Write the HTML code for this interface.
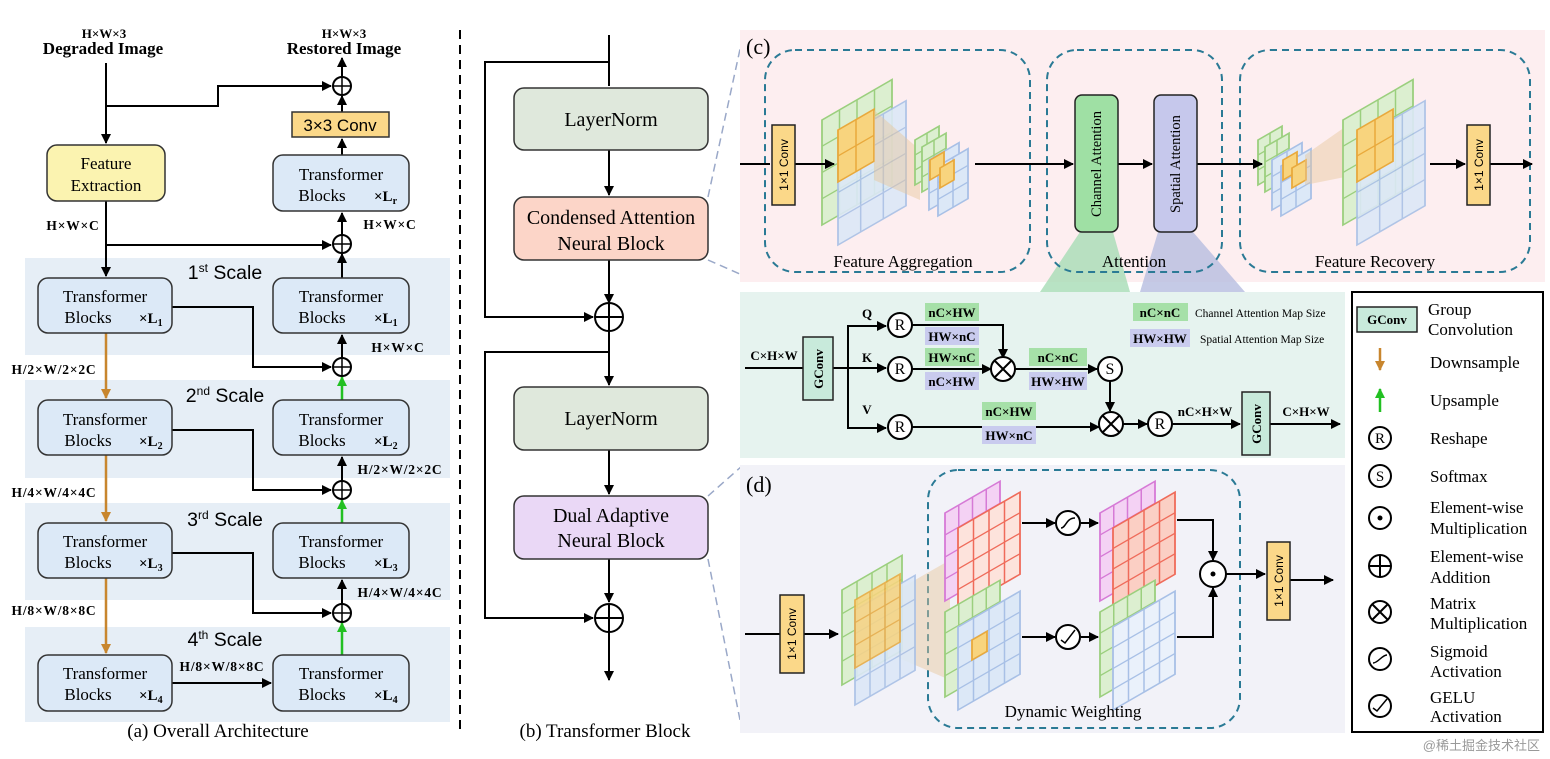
<!DOCTYPE html>
<html><head><meta charset="utf-8"><style>
html,body{margin:0;padding:0;background:#fff}
svg{display:block}
.s{font-family:"Liberation Serif",serif}
.b{font-family:"Liberation Serif",serif;font-weight:bold}
.ss{font-family:"Liberation Sans",sans-serif}
</style></head><body>
<svg id="sv" width="1550" height="759" viewBox="0 0 1550 759" xmlns="http://www.w3.org/2000/svg">
<defs>
<marker id="a" markerWidth="10" markerHeight="10" refX="9" refY="5" orient="auto" markerUnits="userSpaceOnUse"><path d="M0,0 L10,5 L0,10 z" fill="#000"/></marker>
<marker id="ao" markerWidth="10" markerHeight="10" refX="9" refY="5" orient="auto" markerUnits="userSpaceOnUse"><path d="M0,0 L10,5 L0,10 z" fill="#c8862e"/></marker>
<marker id="ag" markerWidth="10" markerHeight="10" refX="9" refY="5" orient="auto" markerUnits="userSpaceOnUse"><path d="M0,0 L10,5 L0,10 z" fill="#22c022"/></marker>
</defs>
<rect width="1550" height="759" fill="#fff"/>
<g fill="#e6eef6">
<rect x="25" y="258" width="425" height="97"/><rect x="25" y="380" width="425" height="98"/>
<rect x="25" y="503" width="425" height="97"/><rect x="25" y="627" width="425" height="95"/>
</g>
<g class="b" font-size="13" text-anchor="middle">
<text x="104" y="38">H×W×3</text><text x="344" y="38">H×W×3</text>
</g>
<g class="b" font-size="17" text-anchor="middle">
<text x="103" y="54">Degraded Image</text><text x="344" y="54">Restored Image</text>
</g>
<g stroke="#000" stroke-width="2" fill="none">
<path d="M106,63 V143" marker-end="url(#a)"/>
<path d="M106,106 H218 V86 H331" marker-end="url(#a)"/>
<path d="M342,77 V58" marker-end="url(#a)"/>
<path d="M342,112 V96" marker-end="url(#a)"/>
<path d="M342,155 V139" marker-end="url(#a)"/>
<path d="M342,235 V213" marker-end="url(#a)"/>
<path d="M106,201 V276" marker-end="url(#a)"/>
<path d="M106,245 H331" marker-end="url(#a)"/>
<path d="M342,278 V254" marker-end="url(#a)"/>
<path d="M342,358 V335" marker-end="url(#a)"/>
<path d="M342,481 V457" marker-end="url(#a)"/>
<path d="M342,604 V580" marker-end="url(#a)"/>
<path d="M172,307 H253 V367 H331" marker-end="url(#a)"/>
<path d="M172,430 H253 V490 H331" marker-end="url(#a)"/>
<path d="M172,553 H253 V613 H331" marker-end="url(#a)"/>
<path d="M172,683 H271" marker-end="url(#a)"/>
</g>
<g stroke="#c8862e" stroke-width="2.5" fill="none">
<path d="M106,333 V398" marker-end="url(#ao)"/><path d="M106,455 V521" marker-end="url(#ao)"/><path d="M106,578 V653" marker-end="url(#ao)"/>
</g>
<g stroke="#22c022" stroke-width="2.5" fill="none">
<path d="M342,400 V377" marker-end="url(#ag)"/><path d="M342,523 V500" marker-end="url(#ag)"/><path d="M342,655 V623" marker-end="url(#ag)"/>
</g>
<g stroke="#000" stroke-width="2" fill="#fff">
<circle cx="342" cy="86" r="9"/><circle cx="342" cy="244" r="9"/><circle cx="342" cy="367" r="9"/><circle cx="342" cy="490" r="9"/><circle cx="342" cy="613" r="9"/>
</g>
<g stroke="#000" stroke-width="1.5">
<path d="M333,86H351M342,77V95M333,244H351M342,235V253M333,367H351M342,358V376M333,490H351M342,481V499M333,613H351M342,604V622"/>
</g>
<g stroke="#333" stroke-width="1.5">
<rect x="47" y="145" width="118" height="56" rx="10" fill="#fbf3b0"/>
<rect x="292" y="112" width="97" height="25" fill="#fbd889"/>
<rect x="273" y="155" width="136" height="56" rx="10" fill="#dce9f7"/>
<rect x="38" y="278" width="134" height="55" rx="10" fill="#dce9f7"/><rect x="273" y="278" width="136" height="55" rx="10" fill="#dce9f7"/>
<rect x="38" y="400" width="134" height="55" rx="10" fill="#dce9f7"/><rect x="273" y="400" width="136" height="55" rx="10" fill="#dce9f7"/>
<rect x="38" y="523" width="134" height="55" rx="10" fill="#dce9f7"/><rect x="273" y="523" width="136" height="55" rx="10" fill="#dce9f7"/>
<rect x="38" y="655" width="134" height="56" rx="10" fill="#dce9f7"/><rect x="273" y="655" width="136" height="56" rx="10" fill="#dce9f7"/>
</g>
<g class="s" font-size="17" text-anchor="middle">
<text x="106" y="169">Feature</text><text x="106" y="191">Extraction</text>
<text x="341" y="180">Transformer</text><text x="322" y="201">Blocks</text>
<text x="105" y="302">Transformer</text><text x="88" y="323">Blocks</text><text x="341" y="302">Transformer</text><text x="322" y="323">Blocks</text>
<text x="105" y="425">Transformer</text><text x="88" y="446">Blocks</text><text x="341" y="425">Transformer</text><text x="322" y="446">Blocks</text>
<text x="105" y="547">Transformer</text><text x="88" y="568">Blocks</text><text x="341" y="547">Transformer</text><text x="322" y="568">Blocks</text>
<text x="105" y="679">Transformer</text><text x="88" y="700">Blocks</text><text x="341" y="679">Transformer</text><text x="322" y="700">Blocks</text>
</g>
<g class="b" font-size="15">
<text x="374" y="201">×L<tspan font-size="10" dy="3">r</tspan></text>
<text x="139" y="323">×L<tspan font-size="10" dy="3">1</tspan></text><text x="374" y="323">×L<tspan font-size="10" dy="3">1</tspan></text>
<text x="139" y="446">×L<tspan font-size="10" dy="3">2</tspan></text><text x="374" y="446">×L<tspan font-size="10" dy="3">2</tspan></text>
<text x="139" y="568">×L<tspan font-size="10" dy="3">3</tspan></text><text x="374" y="568">×L<tspan font-size="10" dy="3">3</tspan></text>
<text x="139" y="700">×L<tspan font-size="10" dy="3">4</tspan></text><text x="374" y="700">×L<tspan font-size="10" dy="3">4</tspan></text>
</g>
<text class="ss" x="340" y="131" font-size="17" text-anchor="middle">3×3 Conv</text>
<g class="ss" font-size="19.5" text-anchor="middle">
<text x="225" y="279">1<tspan font-size="12" dy="-7">st</tspan><tspan dy="7"> Scale</tspan></text>
<text x="225" y="402">2<tspan font-size="12" dy="-7">nd</tspan><tspan dy="7"> Scale</tspan></text>
<text x="225" y="526">3<tspan font-size="12" dy="-7">rd</tspan><tspan dy="7"> Scale</tspan></text>
<text x="225" y="646">4<tspan font-size="12" dy="-7">th</tspan><tspan dy="7"> Scale</tspan></text>
</g>
<g class="b" font-size="13.5" text-anchor="middle" letter-spacing="0.8">
<text x="73" y="230">H×W×C</text><text x="390" y="229">H×W×C</text>
<text x="54" y="374">H/2×W/2×2C</text><text x="398" y="352">H×W×C</text>
<text x="54" y="497">H/4×W/4×4C</text><text x="400" y="474">H/2×W/2×2C</text>
<text x="54" y="615">H/8×W/8×8C</text><text x="400" y="597">H/4×W/4×4C</text>
<text x="222" y="671">H/8×W/8×8C</text>
</g>
<text class="s" x="218" y="737" font-size="19" text-anchor="middle">(a) Overall Architecture</text>
<line x1="460" y1="30" x2="460" y2="730" stroke="#000" stroke-width="2" stroke-dasharray="9,6"/>
<g stroke="#000" stroke-width="2" fill="none">
<path d="M609,35 V86"/><path d="M609,62 H485 V317 H593" marker-end="url(#a)"/>
<path d="M609,150 V195" marker-end="url(#a)"/><path d="M609,260 V303" marker-end="url(#a)"/>
<path d="M609,331 V385" marker-end="url(#a)"/><path d="M609,352 H485 V618 H593" marker-end="url(#a)"/>
<path d="M609,450 V494" marker-end="url(#a)"/><path d="M609,559 V602" marker-end="url(#a)"/>
<path d="M609,632 V680" marker-end="url(#a)"/>
<circle cx="609" cy="317" r="14" fill="#fff"/><circle cx="609" cy="618" r="14" fill="#fff"/>
<path d="M595,317H623M609,303V331M595,618H623M609,604V632"/>
</g>
<g stroke="#333" stroke-width="1.5">
<rect x="514" y="88" width="194" height="62" rx="10" fill="#dfe8dc"/>
<rect x="514" y="197" width="194" height="63" rx="10" fill="#fcd5c8"/>
<rect x="514" y="387" width="194" height="63" rx="10" fill="#dfe8dc"/>
<rect x="514" y="496" width="194" height="63" rx="10" fill="#ead8f6"/>
</g>
<g class="s" font-size="20" text-anchor="middle">
<text x="611" y="126">LayerNorm</text><text x="611" y="224">Condensed Attention</text><text x="611" y="250">Neural Block</text>
<text x="611" y="425">LayerNorm</text><text x="611" y="522">Dual Adaptive</text><text x="611" y="547">Neural Block</text>
</g>
<text class="s" x="605" y="737" font-size="19" text-anchor="middle">(b) Transformer Block</text>
<g stroke="#9aa8c8" stroke-width="1.5" stroke-dasharray="8,5" fill="none">
<path d="M708,197 L742,40"/><path d="M708,260 L742,275"/><path d="M708,496 L742,466"/><path d="M708,559 L742,730"/>
</g>
<rect x="740" y="30" width="805" height="252" fill="#fdeef0"/>
<rect x="740" y="292" width="605" height="166" fill="#e6f3ef"/>
<rect x="740" y="465" width="605" height="268" fill="#f2f2f8"/>
<rect x="1352" y="292" width="191" height="440" fill="#fff" stroke="#000" stroke-width="2"/>
<polygon points="1080,232 1113,232 1130,292 1040,292" fill="#a6dcb5" opacity=".8"/>
<polygon points="1158,232 1193,232 1245,292 1140,292" fill="#b6bde0" opacity=".8"/>
<g stroke="#2a7a95" stroke-width="2" stroke-dasharray="7,5" fill="none">
<rect x="765" y="50" width="265" height="222" rx="30"/><rect x="1047" y="50" width="175" height="222" rx="30"/><rect x="1240" y="50" width="290" height="222" rx="30"/>
<rect x="928" y="470" width="312" height="258" rx="30"/>
</g>
<text class="s" x="746" y="54" font-size="22">(c)</text>
<text class="s" x="746" y="492" font-size="22">(d)</text>
<g id="grids"></g>
<g stroke="#000" stroke-width="2" fill="none">
<path d="M740,164 H770"/><path d="M795,164 H834" marker-end="url(#a)"/>
<path d="M975,164 H1073" marker-end="url(#a)"/><path d="M1118,164 H1152" marker-end="url(#a)"/>
<path d="M1197,164 H1262" marker-end="url(#a)"/><path d="M1430,164 H1465" marker-end="url(#a)"/>
<path d="M1490,164 H1532" marker-end="url(#a)"/>
</g>
<g stroke="#222" stroke-width="1.5">
<rect x="772" y="125" width="23" height="80" fill="#fbd889"/><rect x="1467" y="125" width="23" height="80" fill="#fbd889"/>
<rect x="1075" y="95" width="43" height="137" rx="7" fill="#9fe0a4"/><rect x="1154" y="95" width="43" height="137" rx="7" fill="#c6c8ec"/>
</g>
<g class="ss" font-size="12" text-anchor="middle">
<text transform="translate(788,165) rotate(-90)">1×1 Conv</text><text transform="translate(1483,165) rotate(-90)">1×1 Conv</text>
</g>
<g class="s" font-size="14.5" text-anchor="middle">
<text transform="translate(1101,164) rotate(-90)">Channel Attention</text><text transform="translate(1180,164) rotate(-90)">Spatial Attention</text>
</g>
<g class="s" font-size="17" text-anchor="middle">
<text x="903" y="267">Feature Aggregation</text><text x="1134" y="267">Attention</text><text x="1375" y="267">Feature Recovery</text>
<text x="1073" y="717">Dynamic Weighting</text>
</g>
<g stroke="#000" stroke-width="2" fill="none">
<path d="M745,368 H803"/><path d="M833,368 H886" marker-end="url(#a)"/>
<path d="M848,368 V326 H886" marker-end="url(#a)"/><path d="M848,368 V428 H886" marker-end="url(#a)"/>
<path d="M912,325 H1003 V358" marker-end="url(#a)"/><path d="M912,369 H991" marker-end="url(#a)"/>
<path d="M1015,369 H1097" marker-end="url(#a)"/><path d="M1110,381 V411" marker-end="url(#a)"/>
<path d="M912,427 H1099" marker-end="url(#a)"/><path d="M1123,424 H1147" marker-end="url(#a)"/>
<path d="M1172,424 H1240" marker-end="url(#a)"/><path d="M1270,424 H1340" marker-end="url(#a)"/>
<circle cx="900" cy="325" r="12" fill="#fff"/><circle cx="900" cy="369" r="12" fill="#fff"/><circle cx="900" cy="427" r="12" fill="#fff"/>
<circle cx="1003" cy="369" r="12" fill="#fff"/><circle cx="1110" cy="369" r="12" fill="#fff"/><circle cx="1111" cy="424" r="12" fill="#fff"/><circle cx="1160" cy="424" r="12" fill="#fff"/>
<path d="M995,361L1011,377M1011,361L995,377M1103,416L1119,432M1119,416L1103,432"/>
</g>
<rect x="803" y="337" width="30" height="63" fill="#c8eadb" stroke="#222" stroke-width="1.5"/>
<rect x="1242" y="392" width="28" height="63" fill="#c8eadb" stroke="#222" stroke-width="1.5"/>
<g class="b" font-size="13" text-anchor="middle">
<text transform="translate(823,369) rotate(-90)">GConv</text><text transform="translate(1261,424) rotate(-90)">GConv</text>
</g>
<g class="s" font-size="16" text-anchor="middle">
<text x="900" y="330">R</text><text x="900" y="374">R</text><text x="900" y="432">R</text><text x="1160" y="429">R</text><text x="1110" y="374">S</text>
</g>
<g fill="#a6e0a8"><rect x="925" y="303" width="54" height="18"/><rect x="925" y="348" width="54" height="18"/><rect x="1029" y="348" width="58" height="18"/><rect x="982" y="402" width="54" height="18"/><rect x="1133" y="303" width="55" height="18"/></g>
<g fill="#c9cbee"><rect x="925" y="327" width="54" height="18"/><rect x="925" y="372" width="54" height="18"/><rect x="1029" y="372" width="58" height="18"/><rect x="982" y="426" width="54" height="18"/><rect x="1130" y="329" width="60" height="18"/></g>
<g class="b" font-size="13" text-anchor="middle">
<text x="952" y="317">nC×HW</text><text x="952" y="341">HW×nC</text><text x="952" y="362">HW×nC</text><text x="952" y="386">nC×HW</text>
<text x="1058" y="362">nC×nC</text><text x="1058" y="386">HW×HW</text><text x="1009" y="416">nC×HW</text><text x="1009" y="440">HW×nC</text>
<text x="1160" y="317">nC×nC</text><text x="1160" y="343">HW×HW</text>
<text x="774" y="360">C×H×W</text><text x="867" y="318">Q</text><text x="867" y="362">K</text><text x="867" y="414">V</text>
<text x="1205" y="416">nC×H×W</text><text x="1306" y="416">C×H×W</text>
</g>
<g class="s" font-size="11.5"><text x="1195" y="317">Channel Attention Map Size</text><text x="1200" y="343">Spatial Attention Map Size</text></g>
<g stroke="#000" stroke-width="2" fill="none">
<path d="M745,634 H780"/><path d="M804,634 H838" marker-end="url(#a)"/>
<path d="M1022,523 H1055" marker-end="url(#a)"/><path d="M1081,523 H1098" marker-end="url(#a)"/>
<path d="M1022,637 H1055" marker-end="url(#a)"/><path d="M1081,637 H1098" marker-end="url(#a)"/>
<path d="M1177,520 H1213 V560" marker-end="url(#a)"/><path d="M1177,637 H1213 V588" marker-end="url(#a)"/>
<path d="M1226,574 H1265" marker-end="url(#a)"/><path d="M1290,580 H1333" marker-end="url(#a)"/>
<circle cx="1068" cy="523" r="12" fill="#fff"/><circle cx="1068" cy="637" r="12" fill="#fff"/><circle cx="1213" cy="574" r="13" fill="#fff"/>
<path d="M1061,528 C1066,528 1066,518 1075,518" stroke-width="1.5"/><path d="M1061,640 L1065,643 L1075,630" stroke-width="1.5"/>
</g>
<circle cx="1213" cy="574" r="2.5" fill="#000"/>
<rect x="780" y="595" width="24" height="78" fill="#fbd889" stroke="#222" stroke-width="1.5"/>
<rect x="1267" y="542" width="23" height="78" fill="#fbd889" stroke="#222" stroke-width="1.5"/>
<g class="ss" font-size="12" text-anchor="middle">
<text transform="translate(796,634) rotate(-90)">1×1 Conv</text><text transform="translate(1283,581) rotate(-90)">1×1 Conv</text>
</g>
<rect x="1357" y="307" width="60" height="25" fill="#c8eadb" stroke="#222" stroke-width="1.5"/>
<text class="b" x="1387" y="324" font-size="13" text-anchor="middle">GConv</text>
<g stroke-width="2.5" fill="none"><path d="M1380,348 V370" stroke="#c8862e" marker-end="url(#ao)"/><path d="M1380,412 V389" stroke="#22c022" marker-end="url(#ag)"/></g>
<g stroke="#000" stroke-width="2" fill="#fff">
<circle cx="1380" cy="438" r="11"/><circle cx="1380" cy="476" r="11"/><circle cx="1380" cy="518" r="11"/><circle cx="1380" cy="566" r="11"/><circle cx="1380" cy="612" r="11"/><circle cx="1380" cy="659" r="11"/><circle cx="1380" cy="706" r="11"/>
<path d="M1369,566H1391M1380,555V577M1372,604L1388,620M1388,604L1372,620" fill="none"/>
<path d="M1373,663 C1378,663 1382,655 1387,655" fill="none" stroke-width="1.5"/><path d="M1373,708 L1377,711 L1387,699" fill="none" stroke-width="1.5"/>
</g>
<circle cx="1380" cy="518" r="2.5" fill="#000"/>
<g class="s" font-size="15" text-anchor="middle"><text x="1380" y="443">R</text><text x="1380" y="481">S</text></g>
<g class="s" font-size="17">
<text x="1428" y="315">Group</text><text x="1428" y="335">Convolution</text>
<text x="1430" y="368">Downsample</text><text x="1430" y="406">Upsample</text>
<text x="1430" y="444">Reshape</text><text x="1430" y="482">Softmax</text>
<text x="1430" y="513">Element-wise</text><text x="1430" y="534">Multiplication</text>
<text x="1430" y="562">Element-wise</text><text x="1430" y="583">Addition</text>
<text x="1430" y="609">Matrix</text><text x="1430" y="629">Multiplication</text>
<text x="1430" y="657">Sigmoid</text><text x="1430" y="677">Activation</text>
<text x="1430" y="703">GELU</text><text x="1430" y="722">Activation</text>
</g>
<text x="1540" y="750" font-size="13" fill="#999" text-anchor="end" font-family="'Liberation Sans','Noto Sans CJK SC',sans-serif">@稀土掘金技术社区</text>
</svg>
<script>
var G=document.getElementById('grids'),NS='http://www.w3.org/2000/svg';
function el(t,a,p){var e=document.createElementNS(NS,t);for(var k in a)e.setAttribute(k,a[k]);(p||G).appendChild(e);return e;}
function grid(x,y,w,h,nx,ny,fill,stroke,op){
 var g=el('g',{transform:'translate('+x+','+y+') skewY(-30)',opacity:op||1});
 el('rect',{x:0,y:0,width:w,height:h,fill:fill,stroke:stroke,'stroke-width':1.8},g);
 for(var i=1;i<nx;i++)el('line',{x1:w*i/nx,y1:0,x2:w*i/nx,y2:h,stroke:stroke,'stroke-width':1.5},g);
 for(var j=1;j<ny;j++)el('line',{x1:0,y1:h*j/ny,x2:w,y2:h*j/ny,stroke:stroke,'stroke-width':1.5},g);
}
var GF='#dcefd0',GS='#9bcf7e',BF='#dce8f7',BS='#a8c0e6',OF='#f8d47e',OS='#e9a93c';
grid(822,120,70,105,4,4,GF,GS);grid(838,140,68,105,3,4,BF,BS,.9);grid(838,130,36,52,2,2,OF,OS);
el('polygon',{points:'874,110 920,150 920,200 874,180',fill:'#e6c59a',opacity:.45});
grid(915,140,24,45,2,3,GF,GS);grid(922,147,24,45,2,3,GF,GS);grid(929,160,30,50,2,3,BF,BS);grid(938,166,30,50,2,3,BF,BS);grid(930,160,14,20,1,1,OF,OS);grid(940,168,14,20,1,1,OF,OS);
grid(1258,140,24,45,2,3,GF,GS);grid(1265,147,24,45,2,3,GF,GS);grid(1272,160,30,50,2,3,BF,BS);grid(1281,166,30,50,2,3,BF,BS);grid(1283,160,14,20,1,1,OF,OS);grid(1292,168,14,20,1,1,OF,OS);
el('polygon',{points:'1305,155 1355,120 1355,175 1305,185',fill:'#e6c59a',opacity:.45});
grid(1343,120,70,105,4,4,GF,GS);grid(1357,140,68,105,3,4,BF,BS,.9);grid(1357,130,36,52,2,2,OF,OS);
el('polygon',{points:'880,600 950,560 950,680 880,650',fill:'#e6c59a',opacity:.45});
grid(842,590,60,95,4,4,GF,GS);grid(855,610,60,95,4,4,BF,BS,.9);grid(855,600,45,68,3,3,OF,OS,.85);
grid(945,513,55,88,4,4,'#f4d2f4','#d67ad6');grid(958,528,62,82,4,4,'#fde3dc','#ef6b5a');
grid(945,612,55,85,4,4,GF,GS);grid(958,627,62,83,4,4,BF,BS);grid(972,640,15,20,1,1,OF,OS);
grid(1100,513,55,88,4,4,'#f4d2f4','#d67ad6');grid(1113,528,62,82,4,4,'#fbcfc4','#ef6b5a');
grid(1100,612,55,85,4,4,GF,GS);grid(1113,627,62,83,4,4,'#eaf1fb',BS);
</script>
</body></html>
